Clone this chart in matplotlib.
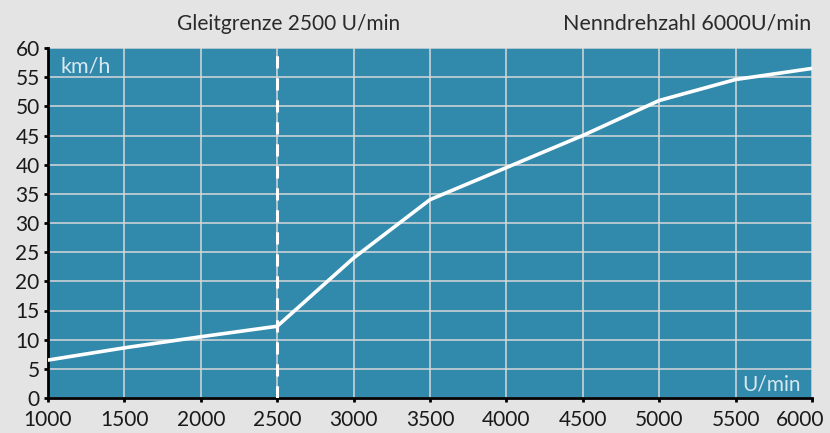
import numpy as np
from matplotlib import pyplot as plt
from matplotlib.transforms import ScaledTranslation

plt.rcParams['font.family'] = ['Lato', 'DejaVu Sans']

drehzahl = [1000, 1500, 2000, 2500, 3000, 3500, 4000, 4500, 5000, 5500, 6000]
geschwindigkeit = [6.5, 8.6, 10.5, 12.3, 24.0, 34.0, 39.5, 45.0, 51.0, 54.6, 56.5]
gleitgrenze = 2500
x_ticks = [1000, 1500, 2000, 2500, 3000, 3500, 4000, 4500, 5000, 5500, 6000]
y_ticks = [0, 5, 10, 15, 20, 25, 30, 35, 40, 45, 50, 55, 60]

fig = plt.figure(figsize=(8.3, 4.33), dpi=100, facecolor='#e4e4e4')
ax = fig.add_axes([48 / 830, 35 / 433, 764 / 830, 350 / 433])
ax.set_facecolor('#3189ab')

ax.set_xlim(1000, 6000)
ax.set_ylim(0, 60)
ax.set_xticks(x_ticks)
ax.set_yticks(y_ticks)
ax.grid(True, color='#d8d8d8', linewidth=1.1)
ax.set_axisbelow(True)

ax.plot(drehzahl, geschwindigkeit, color='white', linewidth=2.6, zorder=3)
ax.axvline(gleitgrenze, color='white', linestyle=(0, (4, 3.2)), linewidth=2.2, zorder=3)

for side in ['top', 'right']:
    ax.spines[side].set_visible(False)
for side in ['left', 'bottom']:
    ax.spines[side].set_linewidth(2)
    ax.spines[side].set_color('black')
ax.tick_params(length=3, width=2, colors='black', labelsize=15)
ax.tick_params(axis='x', pad=6)
ax.tick_params(axis='y', pad=3)
for lbl in ax.get_xticklabels() + ax.get_yticklabels():
    lbl.set_color('#1a1a1a')

# letzte Beschriftung etwas nach links, damit sie ins Bild passt
last = ax.get_xticklabels()[-1]
last.set_transform(last.get_transform() + ScaledTranslation(-12 / 100, 0, fig.dpi_scale_trans))

ax.text(0.016, 0.975, 'km/h', transform=ax.transAxes, color='#d8e8f0',
        fontsize=15.5, va='top', ha='left')
ax.text(0.985, 0.01, 'U/min', transform=ax.transAxes, color='#d8e8f0',
        fontsize=15, va='bottom', ha='right')

fig.text(0.348, 0.945, 'Gleitgrenze 2500 U/min', ha='center', va='center',
         fontsize=15, color='#2a2a2a')
fig.text(0.977, 0.945, 'Nenndrehzahl 6000U/min', ha='right', va='center',
         fontsize=15.5, color='#2a2a2a')

fig.savefig('out.png', dpi=100, facecolor=fig.get_facecolor())
